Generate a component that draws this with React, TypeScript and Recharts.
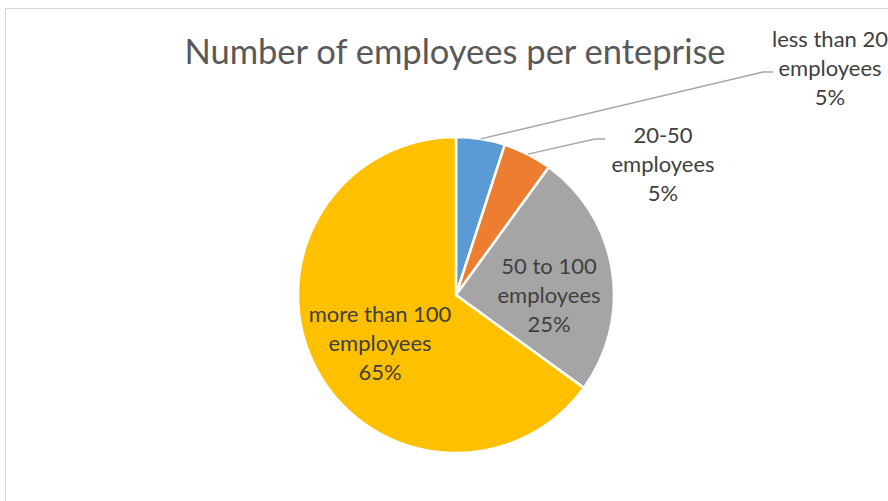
import { Cell, Pie, PieChart } from 'recharts';

const categories = [
  'less than 20 employees',
  '20-50 employees',
  '50 to 100 employees',
  'more than 100 employees',
];
const shares = [5, 5, 25, 65];
const colors = ['#5B9BD5', '#ED7D31', '#A5A5A5', '#FFC000'];

// label placement relative to the pie centre (px); elbow = leader line bend, null = inside label
const labelLayout = [
  { dx: 374, dy: -228, elbow: { x0: 307, x1: 317, y: -223 } },
  { dx: 207, dy: -132, elbow: { x0: 139, x1: 149, y: -156 } },
  { dx: 93, dy: -1, elbow: null },
  { dx: -76, dy: 47, elbow: null },
];

const data = categories.map((name, i) => ({ name, value: shares[i] }));

const FONT = 'Lato, "Open Sans", sans-serif';
const RAD = Math.PI / 180;

function renderLabel(props: any) {
  const { cx, cy, midAngle, outerRadius, index, percent, name } = props;
  const layout = labelLayout[index];
  const tx = cx + layout.dx;
  const ty = cy + layout.dy;
  const lines = name.replace(' employees', '\nemployees').split('\n');
  lines.push(`${Math.round(percent * 100)}%`);
  let leader = null;
  if (layout.elbow) {
    const sx = cx + outerRadius * Math.cos(midAngle * RAD);
    const sy = cy - outerRadius * Math.sin(midAngle * RAD);
    const e = layout.elbow;
    leader = (
      <polyline
        points={`${sx},${sy} ${cx + e.x0},${cy + e.y} ${cx + e.x1},${cy + e.y}`}
        fill="none"
        stroke="#A6A6A6"
        strokeWidth={1.3}
      />
    );
  }
  return (
    <g>
      {leader}
      {lines.map((line: string, i: number) => (
        <text
          key={i}
          x={tx}
          y={ty + (i - 1) * 29}
          textAnchor="middle"
          dominantBaseline="central"
          fill="#404040"
          fontSize={22}
          fontFamily={FONT}
        >
          {line}
        </text>
      ))}
    </g>
  );
}

export default function App() {
  return (
    <div
      style={{
        position: 'absolute',
        left: 0,
        top: 0,
        width: 888,
        height: 501,
        background: '#fff',
        overflow: 'hidden',
      }}
    >
      <div
        style={{
          position: 'absolute',
          left: 5,
          top: 8,
          width: 900,
          height: 520,
          borderTop: '1px solid #D9D9D9',
          borderLeft: '1px solid #D9D9D9',
        }}
      />
      <svg width={888} height={501} style={{ position: 'absolute', left: 0, top: 0 }}>
        <text
          x={455}
          y={64}
          textAnchor="middle"
          fill="#595959"
          fontSize={34.5}
          fontFamily={FONT}
        >
          Number of employees per enteprise
        </text>
      </svg>
      <div style={{ position: 'absolute', left: 0, top: 0 }}>
        <PieChart width={888} height={501} margin={{ top: 0, right: 0, bottom: 0, left: 0 }}>
          <Pie
            data={data}
            dataKey="value"
            nameKey="name"
            cx={456}
            cy={295}
            outerRadius={158}
            startAngle={90}
            endAngle={-270}
            stroke="#fff"
            strokeWidth={2.5}
            label={renderLabel}
            labelLine={false}
            isAnimationActive={false}
          >
            {data.map((d, i) => (
              <Cell key={d.name} fill={colors[i]} />
            ))}
          </Pie>
        </PieChart>
      </div>
    </div>
  );
}
